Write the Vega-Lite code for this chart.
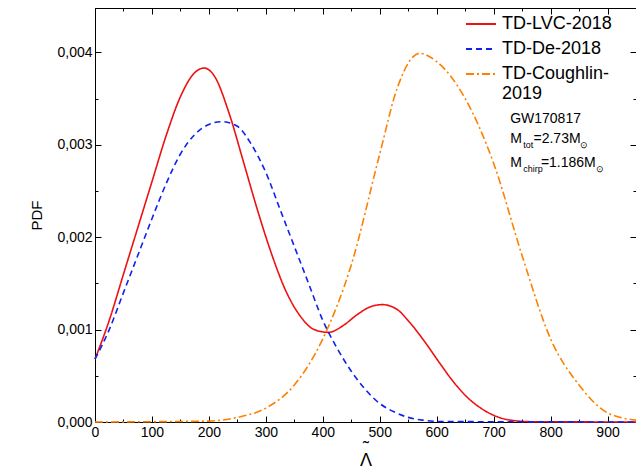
{
  "$schema": "https://vega.github.io/schema/vega-lite/v6.json",
  "width": 541,
  "height": 414,
  "padding": {"left": 95, "top": 8, "right": 0, "bottom": 52},
  "autosize": {"type": "none"},
  "config": {
    "font": "Liberation Sans",
    "view": {"stroke": "black", "strokeWidth": 1},
    "axis": {"labelFont": "Liberation Sans", "titleFont": "Liberation Sans", "labelFontSize": 14, "titleFontSize": 15, "titleFontWeight": "normal", "labelColor": "black", "titleColor": "black", "domainColor": "black", "tickColor": "black", "grid": false}
  },
  "resolve": {"axis": {"x": "independent", "y": "independent"}},
  "datasets": {
    "curves": [
      {"lam": 0, "pdf": 0.00068, "model": "TD-LVC-2018"},
      {"lam": 25, "pdf": 0.0011, "model": "TD-LVC-2018"},
      {"lam": 50, "pdf": 0.0016, "model": "TD-LVC-2018"},
      {"lam": 75, "pdf": 0.0021, "model": "TD-LVC-2018"},
      {"lam": 100, "pdf": 0.0026, "model": "TD-LVC-2018"},
      {"lam": 125, "pdf": 0.0031, "model": "TD-LVC-2018"},
      {"lam": 150, "pdf": 0.00352, "model": "TD-LVC-2018"},
      {"lam": 175, "pdf": 0.00378, "model": "TD-LVC-2018"},
      {"lam": 192, "pdf": 0.00383, "model": "TD-LVC-2018"},
      {"lam": 210, "pdf": 0.00374, "model": "TD-LVC-2018"},
      {"lam": 235, "pdf": 0.00335, "model": "TD-LVC-2018"},
      {"lam": 260, "pdf": 0.00283, "model": "TD-LVC-2018"},
      {"lam": 285, "pdf": 0.0023, "model": "TD-LVC-2018"},
      {"lam": 310, "pdf": 0.00182, "model": "TD-LVC-2018"},
      {"lam": 335, "pdf": 0.00142, "model": "TD-LVC-2018"},
      {"lam": 360, "pdf": 0.00115, "model": "TD-LVC-2018"},
      {"lam": 385, "pdf": 0.001, "model": "TD-LVC-2018"},
      {"lam": 410, "pdf": 0.00097, "model": "TD-LVC-2018"},
      {"lam": 435, "pdf": 0.00104, "model": "TD-LVC-2018"},
      {"lam": 460, "pdf": 0.00116, "model": "TD-LVC-2018"},
      {"lam": 485, "pdf": 0.00125, "model": "TD-LVC-2018"},
      {"lam": 505, "pdf": 0.00127, "model": "TD-LVC-2018"},
      {"lam": 530, "pdf": 0.00122, "model": "TD-LVC-2018"},
      {"lam": 555, "pdf": 0.00106, "model": "TD-LVC-2018"},
      {"lam": 580, "pdf": 0.00086, "model": "TD-LVC-2018"},
      {"lam": 605, "pdf": 0.00064, "model": "TD-LVC-2018"},
      {"lam": 630, "pdf": 0.00043, "model": "TD-LVC-2018"},
      {"lam": 655, "pdf": 0.00026, "model": "TD-LVC-2018"},
      {"lam": 680, "pdf": 0.00014, "model": "TD-LVC-2018"},
      {"lam": 705, "pdf": 0.00006, "model": "TD-LVC-2018"},
      {"lam": 730, "pdf": 0.00002, "model": "TD-LVC-2018"},
      {"lam": 770, "pdf": 0.000003, "model": "TD-LVC-2018"},
      {"lam": 950, "pdf": 0, "model": "TD-LVC-2018"},
      {"lam": 0, "pdf": 0.00068, "model": "TD-De-2018"},
      {"lam": 25, "pdf": 0.001, "model": "TD-De-2018"},
      {"lam": 50, "pdf": 0.0014, "model": "TD-De-2018"},
      {"lam": 75, "pdf": 0.0018, "model": "TD-De-2018"},
      {"lam": 100, "pdf": 0.0022, "model": "TD-De-2018"},
      {"lam": 125, "pdf": 0.00258, "model": "TD-De-2018"},
      {"lam": 150, "pdf": 0.0029, "model": "TD-De-2018"},
      {"lam": 175, "pdf": 0.00311, "model": "TD-De-2018"},
      {"lam": 200, "pdf": 0.00322, "model": "TD-De-2018"},
      {"lam": 222, "pdf": 0.00325, "model": "TD-De-2018"},
      {"lam": 250, "pdf": 0.0032, "model": "TD-De-2018"},
      {"lam": 275, "pdf": 0.003, "model": "TD-De-2018"},
      {"lam": 300, "pdf": 0.0027, "model": "TD-De-2018"},
      {"lam": 325, "pdf": 0.0023, "model": "TD-De-2018"},
      {"lam": 350, "pdf": 0.0019, "model": "TD-De-2018"},
      {"lam": 375, "pdf": 0.0015, "model": "TD-De-2018"},
      {"lam": 400, "pdf": 0.0011, "model": "TD-De-2018"},
      {"lam": 425, "pdf": 0.0008, "model": "TD-De-2018"},
      {"lam": 450, "pdf": 0.00055, "model": "TD-De-2018"},
      {"lam": 475, "pdf": 0.00035, "model": "TD-De-2018"},
      {"lam": 500, "pdf": 0.0002, "model": "TD-De-2018"},
      {"lam": 525, "pdf": 0.00011, "model": "TD-De-2018"},
      {"lam": 550, "pdf": 0.00005, "model": "TD-De-2018"},
      {"lam": 575, "pdf": 0.00002, "model": "TD-De-2018"},
      {"lam": 610, "pdf": 0.000005, "model": "TD-De-2018"},
      {"lam": 950, "pdf": 0, "model": "TD-De-2018"},
      {"lam": 0, "pdf": 0, "model": "TD-Coughlin-2019"},
      {"lam": 200, "pdf": 0.00001, "model": "TD-Coughlin-2019"},
      {"lam": 250, "pdf": 0.00005, "model": "TD-Coughlin-2019"},
      {"lam": 300, "pdf": 0.00015, "model": "TD-Coughlin-2019"},
      {"lam": 350, "pdf": 0.0004, "model": "TD-Coughlin-2019"},
      {"lam": 400, "pdf": 0.0009, "model": "TD-Coughlin-2019"},
      {"lam": 450, "pdf": 0.0017, "model": "TD-Coughlin-2019"},
      {"lam": 500, "pdf": 0.0029, "model": "TD-Coughlin-2019"},
      {"lam": 530, "pdf": 0.0036, "model": "TD-Coughlin-2019"},
      {"lam": 570, "pdf": 0.00399, "model": "TD-Coughlin-2019"},
      {"lam": 600, "pdf": 0.0039, "model": "TD-Coughlin-2019"},
      {"lam": 650, "pdf": 0.0035, "model": "TD-Coughlin-2019"},
      {"lam": 700, "pdf": 0.0028, "model": "TD-Coughlin-2019"},
      {"lam": 750, "pdf": 0.0018, "model": "TD-Coughlin-2019"},
      {"lam": 800, "pdf": 0.0009, "model": "TD-Coughlin-2019"},
      {"lam": 850, "pdf": 0.0004, "model": "TD-Coughlin-2019"},
      {"lam": 900, "pdf": 0.0001, "model": "TD-Coughlin-2019"},
      {"lam": 950, "pdf": 0.00002, "model": "TD-Coughlin-2019"}
    ],
    "main": [
      {"lam": 729, "pdf": 0.00328, "t": "GW170817"},
      {"lam": 729, "pdf": 0.00306, "t": "M"},
      {"lam": 770, "pdf": 0.00306, "t": "=2.73M"},
      {"lam": 729, "pdf": 0.0028, "t": "M"},
      {"lam": 783, "pdf": 0.0028, "t": "=1.186M"}
    ],
    "sub": [
      {"lam": 752, "pdf": 0.003, "t": "tot"},
      {"lam": 852, "pdf": 0.003, "t": "⊙"},
      {"lam": 752, "pdf": 0.00274, "t": "chirp"},
      {"lam": 880, "pdf": 0.00274, "t": "⊙"}
    ]
  },
  "layer": [
    {
      "data": {"name": "curves"},
      "mark": {"type": "line", "strokeWidth": 1.6, "interpolate": "monotone"},
      "encoding": {
        "x": {"field": "lam", "type": "quantitative", "title": ["˜", "Λ"], "scale": {"domain": [0, 950], "nice": false},
          "axis": {"values": [0,50,100,150,200,250,300,350,400,450,500,550,600,650,700,750,800,850,900], "labelExpr": "datum.value % 100 == 0 ? datum.label : ''", "labelFlush": false, "labelPadding": 9, "titleFontSize": 18, "titleLineHeight": 12, "titlePadding": 0,
            "tickSize": {"condition": {"test": "datum.value % 100 == 0", "value": -6}, "value": -3}}},
        "y": {"field": "pdf", "type": "quantitative", "title": "PDF", "scale": {"domain": [0, 0.00448], "nice": false},
          "axis": {"values": [0,0.0005,0.001,0.0015,0.002,0.0025,0.003,0.0035,0.004], "labelExpr": "round(datum.value * 10000) % 10 == 0 ? replace(format(datum.value, '.3f'), '.', ',') : ''", "labelPadding": 9, "titlePadding": 12,
            "tickSize": {"condition": {"test": "round(datum.value * 10000) % 10 == 0", "value": -6}, "value": -3}}},
        "color": {"field": "model", "type": "nominal", "sort": ["TD-LVC-2018", "TD-De-2018", "TD-Coughlin-2019"],
          "scale": {"domain": ["TD-LVC-2018", "TD-De-2018", "TD-Coughlin-2019"], "range": ["#ee1111", "#1122ee", "#ff8000"]},
          "legend": {"title": null, "orient": "none", "legendX": 370, "legendY": 0, "padding": 0, "symbolType": "stroke", "symbolSize": 900, "symbolStrokeWidth": 2, "labelFontSize": 18, "labelColor": "black", "labelFont": "Liberation Sans", "rowPadding": 0, "labelOffset": 5, "labelLineHeight": 21, "labelBaseline": "middle",
            "labelExpr": "datum.label == 'TD-Coughlin-2019' ? ['TD-Coughlin-', '2019'] : datum.label"}},
        "strokeDash": {"field": "model", "type": "nominal", "sort": ["TD-LVC-2018", "TD-De-2018", "TD-Coughlin-2019"],
          "scale": {"domain": ["TD-LVC-2018", "TD-De-2018", "TD-Coughlin-2019"], "range": [[1, 0], [6, 4], [8, 3, 2, 3]]}}
      }
    },
    {
      "data": {"name": "main"},
      "mark": {"type": "text", "align": "left", "baseline": "middle", "fontSize": 14, "color": "black"},
      "encoding": {
        "x": {"field": "lam", "type": "quantitative", "axis": {"orient": "top", "title": null, "labels": false, "domain": false, "values": [0,50,100,150,200,250,300,350,400,450,500,550,600,650,700,750,800,850,900], "tickSize": {"condition": {"test": "datum.value % 100 == 0", "value": -6}, "value": -3}}},
        "y": {"field": "pdf", "type": "quantitative", "axis": {"orient": "right", "title": null, "labels": false, "domain": false, "values": [0,0.0005,0.001,0.0015,0.002,0.0025,0.003,0.0035,0.004], "tickSize": {"condition": {"test": "round(datum.value * 10000) % 10 == 0", "value": -6}, "value": -3}}},
        "text": {"field": "t"}
      }
    },
    {
      "data": {"name": "sub"},
      "mark": {"type": "text", "align": "left", "baseline": "middle", "fontSize": 9, "color": "black"},
      "encoding": {"x": {"field": "lam", "type": "quantitative", "axis": null}, "y": {"field": "pdf", "type": "quantitative", "axis": null}, "text": {"field": "t"}}
    }
  ]
}
